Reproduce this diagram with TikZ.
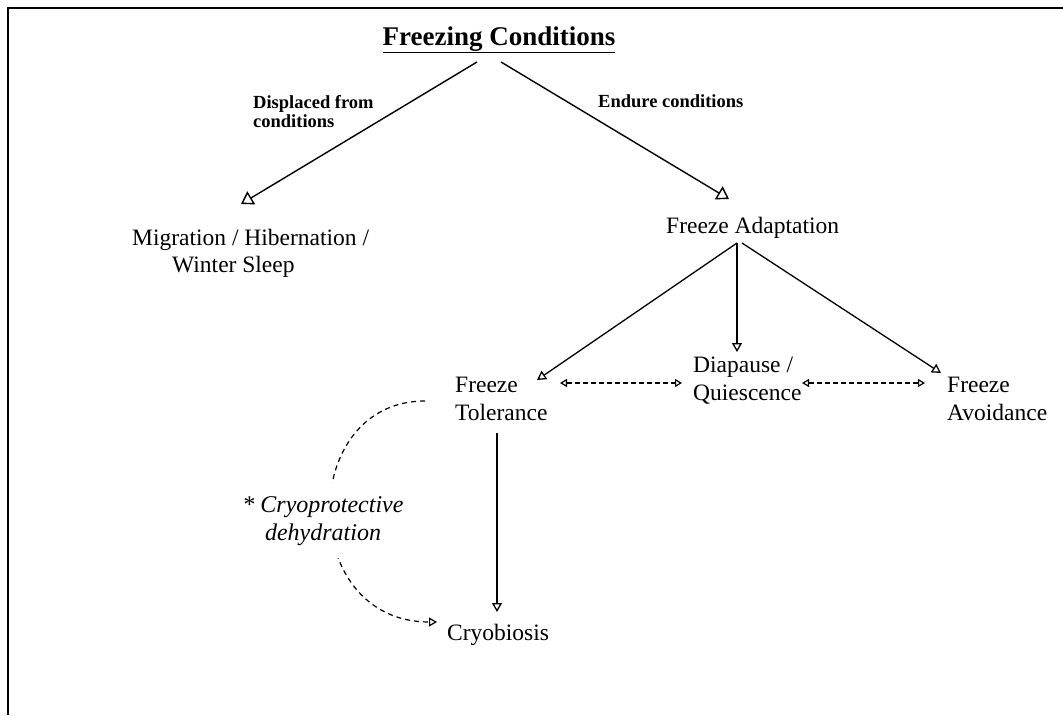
\documentclass[tikz,border=0pt]{standalone}
\usepackage{fontspec}
\setmainfont{Liberation Serif}
\usetikzlibrary{arrows.meta}
\tikzset{
  lbl/.style={inner sep=0pt, anchor=base west, align=left, font=\fontsize{23.5}{28}\selectfont},
  small/.style={inner sep=0pt, anchor=base west, align=left, font=\fontsize{18.5}{19}\selectfont\bfseries},
  conn/.style={line width=1.4pt, -{Triangle[open, length=12pt, width=15pt, line width=1.4pt]}},
  conns/.style={line width=1.3pt, -{Triangle[open, length=9pt, width=10pt, line width=1.3pt]}},
  dconn/.style={line width=1.2pt, dash pattern=on 5pt off 3pt,
     {Triangle[open, length=7pt, width=8pt, line width=1.2pt]}-{Triangle[open, length=7pt, width=8pt, line width=1.2pt]}},
  dcurve/.style={line width=1.2pt, dash pattern=on 5pt off 4pt,
     -{Triangle[open, length=8pt, width=9pt, line width=1.2pt]}},
}
\begin{document}
\begin{tikzpicture}[x=1pt, y=-1pt]
\useasboundingbox (0,0) rectangle (1063,715);
\draw[line width=2pt] (8,715) -- (8,8) -- (1063,8);

\node[inner sep=0pt, anchor=base, font=\fontsize{27}{30}\selectfont\bfseries] (title) at (499,45) {\underline{Freezing Conditions}};
\node[small] (disp) at (253,127) {Displaced from\\conditions};
\node[small] (endure) at (598,107) {Endure conditions};
\node[lbl, font=\fontsize{23.5}{27}\selectfont] (mig) at (132,272) {Migration / Hibernation /\\\hspace*{40pt}Winter Sleep};
\node[lbl] (adapt) at (666,233) {Freeze Adaptation};
\node[lbl] (tol) at (455,420) {Freeze\\Tolerance};
\node[lbl] (dia) at (693,400) {Diapause /\\Quiescence};
\node[lbl] (avoid) at (947,420) {Freeze\\Avoidance};
\node[lbl] (cryo) at (447,640) {Cryobiosis};

\draw[conn] ([shift={(-22,17)}]title.base) -- ([shift={(109,-68)}]mig.base west);
\draw[conn] ([shift={(2,17)}]title.base) -- ([shift={(63,-34)}]adapt.base west);
\draw[conns] ([shift={(71,10)}]adapt.base west) -- ([shift={(82,-40)}]tol.base west);
\draw[conns] ([shift={(71,10)}]adapt.base west) -- ([shift={(44,-48)}]dia.base west);
\draw[conns] ([shift={(76,10)}]adapt.base west) -- ([shift={(-6,-47)}]avoid.base west);
\draw[dconn] ([shift={(105,-37)}]tol.base west) -- ([shift={(-11,-17)}]dia.base west);
\draw[dconn] ([shift={(109,-17)}]dia.base west) -- ([shift={(-22,-37)}]avoid.base west);
\draw[conns] ([shift={(42,13)}]tol.base west) -- ([shift={(50,-28)}]cryo.base west);
\draw[dcurve] ([shift={(-30,-19)}]tol.base west) .. controls +(-128,0) and +(-140,0) .. ([shift={(-10,-18)}]cryo.base west);

\node[inner xsep=2pt, inner ysep=13pt, anchor=base, align=center, fill=white, font=\fontsize{24}{28}\selectfont\itshape] (cp) at (323,540) {* Cryoprotective\\dehydration};
\end{tikzpicture}
\end{document}
